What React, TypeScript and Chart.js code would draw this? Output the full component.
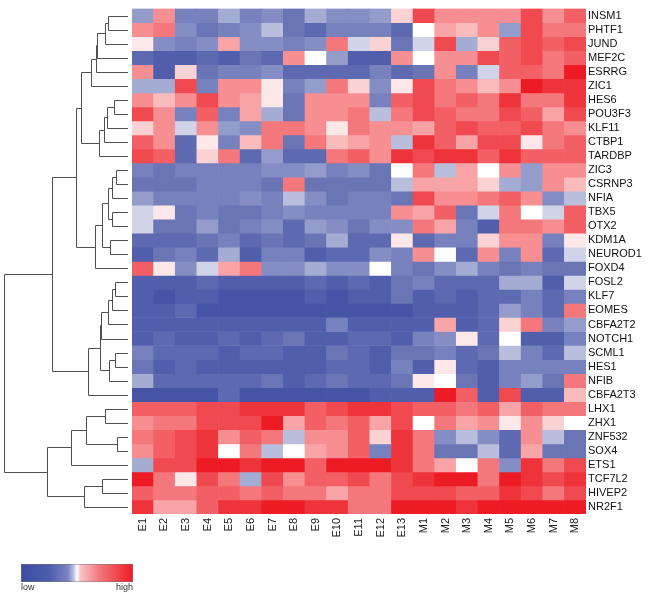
import { useEffect, useRef } from "react";
import { Chart, registerables } from "chart.js";

Chart.register(...registerables);

const samples = ["E1", "E2", "E3", "E4", "E5", "E6", "E7", "E8", "E9", "E10", "E11", "E12", "E13", "M1", "M2", "M3", "M4", "M5", "M6", "M7", "M8"];

const genes = ["INSM1", "PHTF1", "JUND", "MEF2C", "ESRRG", "ZIC1", "HES6", "POU3F3", "KLF11", "CTBP1", "TARDBP", "ZIC3", "CSRNP3", "NFIA", "TBX5", "OTX2", "KDM1A", "NEUROD1", "FOXD4", "FOSL2", "KLF7", "EOMES", "CBFA2T2", "NOTCH1", "SCML1", "HES1", "NFIB", "CBFA2T3", "LHX1", "ZHX1", "ZNF532", "SOX4", "ETS1", "TCF7L2", "HIVEP2", "NR2F1"];

// relative expression (-10 = low ... 10 = high), one row per gene, one column per sample
const expression: number[][] = [
  [-4, 5, -6, -6, -3, -6, -5, -7, -3, -5, -5, -4, 2, 8, 5, 5, 5, 5, 8, 5, 7],
  [5, 6, -5, -7, -6, -5, -2, -7, -8, -6, -6, -6, -8, 0, 4, 3, 5, -4, 8, 6, 6],
  [1, -5, -6, -5, 4, -5, -5, -6, -5, 6, -1, 2, -7, -1, 8, -3, 2, 7, 8, 7, 8],
  [-8, -9, -9, -8, -9, -7, -8, 5, 0, -4, -9, -9, 5, 0, 5, 5, 8, 7, 8, 6, 7],
  [5, -9, 2, -7, -6, -6, -5, -8, -8, -8, -8, -6, -8, -7, 5, -6, -1, 7, 7, 6, 10],
  [-3, -3, 8, -6, 5, 5, 1, -6, -4, 6, 2, -5, 1, 8, 6, 5, 3, 5, 10, 9, 9],
  [5, 3, 5, 8, 5, 4, 1, -7, 5, 5, 5, -6, 7, 8, 6, 7, 6, 9, 6, 6, 9],
  [8, 5, -6, 7, -6, 4, -3, -7, 5, 5, 6, -2, 6, 8, 7, 6, 6, 8, 7, 4, 8],
  [2, 5, -1, 5, -4, -5, 6, 6, 5, 1, 6, 5, 5, 4, 7, 8, 7, 7, 8, 6, 5],
  [7, 5, -8, 1, -6, 3, 6, -7, 6, 3, 4, 5, -2, 9, 7, 4, 8, 8, 1, 6, 7],
  [8, 7, -8, 2, 6, -8, -4, -8, -8, 6, 7, 5, 9, 8, 9, 9, 7, 9, 7, 7, 7],
  [-6, -7, -6, -6, -6, -6, -5, -5, -4, -6, -5, -7, 0, 6, -2, 4, 0, 5, -4, 5, 5],
  [-7, -7, -7, -6, -6, -6, -7, 6, -7, -7, -7, -7, -2, 4, 4, 4, 2, -3, -4, 5, 3],
  [-4, -6, -6, -6, -6, -5, -6, -2, -5, -7, -6, -6, -7, 8, 5, 5, 6, 7, 5, -5, -2],
  [-1, 1, -7, -6, -7, -7, -6, -5, -6, -6, -6, -6, 5, 4, 7, -7, -1, 6, 0, -1, 7],
  [-1, -7, -7, -4, -7, -6, -5, -8, -4, -5, -7, -5, -5, 6, 4, -6, -9, 6, 6, 5, 7],
  [-8, -8, -8, -7, -6, -8, -7, -8, -7, -3, -8, -8, 1, -8, -6, -6, 2, 5, 5, -6, 1],
  [-9, -7, -6, -8, -3, -9, -6, -6, -9, -8, -8, -5, -6, 5, 0, -8, 5, -6, 5, -8, -1],
  [7, 1, -5, -1, 4, 6, -5, -5, -3, -5, -5, 0, -6, -7, -5, -3, -6, -7, -6, -7, -7],
  [-9, -9, -9, -8, -9, -9, -9, -9, -8, -9, -8, -9, -7, -6, -8, -8, -8, -3, -3, -9, -1],
  [-9, -10, -9, -9, -10, -10, -10, -10, -9, -10, -9, -9, -7, -9, -8, -9, -8, -8, -6, -8, -6],
  [-9, -9, -8, -10, -10, -10, -10, -10, -10, -10, -10, -10, -10, -9, -9, -9, -8, -4, -6, -8, 6],
  [-9, -9, -9, -9, -9, -9, -9, -9, -9, -6, -9, -9, -9, -9, 4, -9, -8, 2, 6, -6, -4],
  [-9, -8, -9, -9, -8, -9, -8, -7, -9, -9, -8, -8, -9, -6, -5, 1, -8, 0, -9, -9, -6],
  [-6, -8, -8, -8, -9, -8, -8, -9, -9, -7, -8, -9, -7, -7, -6, -8, -7, -2, -6, -8, -2],
  [-7, -9, -8, -9, -9, -9, -9, -9, -9, -8, -8, -9, -6, -9, 1, -8, -9, -6, -6, -6, -6],
  [-3, -8, -8, -8, -8, -8, -7, -9, -8, -7, -8, -8, -7, 1, 0, -7, -9, -6, -4, -7, 6],
  [-10, -10, -10, -10, -8, -10, -10, -10, -10, -10, -10, -9, -9, -9, 10, 7, -9, 8, -9, -9, 3],
  [7, 7, 7, 8, 8, 9, 9, 9, 7, 8, 9, 9, 8, 7, 7, 6, 7, 4, 7, 6, 6],
  [5, 6, 6, 8, 8, 8, 10, 4, 7, 6, 7, 4, 8, 0, 6, 4, 5, 1, 5, 2, 0],
  [6, 7, 8, 9, 5, 7, 6, -2, 5, 5, 7, 2, 9, 6, -5, -2, -5, -8, 5, -2, -7],
  [5, 7, 8, 9, 0, 6, -2, 0, 4, 5, 7, -6, 9, 6, -7, -7, -2, -8, 4, -7, -7],
  [-3, 8, 8, 10, 10, 9, 10, 10, 7, 10, 10, 10, 9, 6, 4, 0, 6, -5, 9, 6, 8],
  [10, 6, 1, 8, 6, -3, 8, 5, 7, 7, 8, 6, 8, 9, 10, 10, 6, 10, 9, 8, 9],
  [7, 6, 6, 7, 7, 6, 7, 6, 6, 4, 6, 6, 8, 8, 8, 7, 7, 9, 8, 6, 8],
  [9, 4, 4, 7, 9, 9, 10, 10, 9, 9, 6, 6, 10, 10, 10, 9, 10, 10, 10, 10, 10],
];

// row dendrogram: merge k creates node 36 + k from (left, right) at the given height
const mergeLeft = [0, 36, 37, 38, 39, 6, 41, 42, 43, 40, 11, 46, 14, 47, 16, 49, 51, 45, 19, 54, 55, 56, 24, 58, 57, 60, 53, 28, 30, 63, 65, 33, 67, 66, 62];
const mergeRight = [1, 2, 3, 4, 5, 7, 8, 9, 10, 44, 12, 13, 15, 48, 17, 50, 18, 52, 20, 21, 22, 23, 25, 26, 59, 27, 61, 29, 31, 64, 32, 34, 35, 68, 69];
const mergeHeight = [2.0, 2.3, 3.1, 3.2, 3.7, 1.4, 2.1, 2.4, 2.9, 4.7, 1.2, 1.6, 1.6, 2.0, 1.8, 2.6, 3.3, 5.2, 1.3, 1.6, 2.0, 2.7, 1.3, 1.9, 2.8, 4.0, 7.6, 2.3, 1.1, 4.2, 5.7, 2.6, 4.4, 8.1, 12.4];

const scaleLabels = ["low", "high"];

const BLUE = [70, 84, 165];
const RED = [237, 28, 36];

function colorFor(v: number): string {
  const t = Math.max(-1, Math.min(1, v / 10));
  let a: number;
  let c: number[];
  if (t < 0) {
    a = Math.pow(-t, 0.6);
    c = BLUE;
  } else {
    a = t;
    c = RED;
  }
  const r = Math.round(255 + (c[0] - 255) * a);
  const g = Math.round(255 + (c[1] - 255) * a);
  const b = Math.round(255 + (c[2] - 255) * a);
  return `rgb(${r},${g},${b})`;
}

const FONT = "'Liberation Sans', Arial, Helvetica, sans-serif";

const dendroPlugin = {
  id: "dendro",
  afterDraw(chart: any) {
    const ctx = chart.ctx;
    const ys = chart.scales.y;
    const leafX = chart.chartArea.left - 4;
    const rootX = 4;
    const maxH = Math.max(...mergeHeight);
    const pos: { x: number; y: number }[] = genes.map((_, i) => ({ x: leafX, y: ys.getPixelForValue(i + 0.5) }));
    ctx.save();
    ctx.strokeStyle = "#505050";
    ctx.lineWidth = 1;
    ctx.beginPath();
    mergeLeft.forEach((a, k) => {
      const b = mergeRight[k];
      const px = Math.round(leafX - (mergeHeight[k] / maxH) * (leafX - rootX)) + 0.5;
      const A = pos[a];
      const B = pos[b];
      const ya = Math.round(A.y) + 0.5;
      const yb = Math.round(B.y) + 0.5;
      ctx.moveTo(A.x, ya);
      ctx.lineTo(px, ya);
      ctx.lineTo(px, yb);
      ctx.lineTo(B.x, yb);
      pos.push({ x: px, y: (A.y + B.y) / 2 });
    });
    ctx.stroke();
    ctx.restore();
  },
};

const colorbarPlugin = {
  id: "colorbar",
  afterDraw(chart: any) {
    const ctx = chart.ctx;
    const x = 21;
    const y = 564;
    const w = 112;
    const h = 18;
    ctx.save();
    const g = ctx.createLinearGradient(x, 0, x + w, 0);
    g.addColorStop(0, "rgb(60,76,162)");
    g.addColorStop(0.25, "rgb(78,92,172)");
    g.addColorStop(0.42, "rgb(125,132,196)");
    g.addColorStop(0.47, "rgb(190,194,228)");
    g.addColorStop(0.5, "rgb(255,255,255)");
    g.addColorStop(0.53, "rgb(249,196,200)");
    g.addColorStop(0.7, "rgb(243,118,125)");
    g.addColorStop(1, "rgb(237,28,36)");
    ctx.fillStyle = g;
    ctx.fillRect(x, y, w, h);
    ctx.strokeStyle = "rgba(120,120,120,0.5)";
    ctx.lineWidth = 1;
    ctx.strokeRect(x + 0.5, y + 0.5, w - 1, h - 1);
    ctx.fillStyle = "#333";
    ctx.font = `9px ${FONT}`;
    ctx.textBaseline = "top";
    ctx.textAlign = "left";
    ctx.fillText(scaleLabels[0], x, y + h + 1);
    ctx.textAlign = "right";
    ctx.fillText(scaleLabels[1], x + w, y + h + 1);
    ctx.restore();
  },
};

export default function App() {
  const ref = useRef<HTMLCanvasElement>(null);

  useEffect(() => {
    const datasets = genes.map((g, i) => ({
      label: g,
      data: samples.map(() => 1),
      backgroundColor: expression[i].map(colorFor),
      borderWidth: 0,
      barPercentage: 1,
      categoryPercentage: 1,
      stack: "cells",
    }));

    const chart = new Chart(ref.current as HTMLCanvasElement, {
      type: "bar",
      data: { labels: samples, datasets },
      options: {
        animation: false,
        responsive: false,
        devicePixelRatio: 1,
        layout: { padding: { left: 132, top: 3, right: 0, bottom: 0 } },
        plugins: {
          legend: { display: false },
          tooltip: { enabled: false },
        },
        scales: {
          x: {
            type: "category",
            stacked: true,
            grid: { display: false, drawTicks: false },
            border: { display: false },
            ticks: {
              autoSkip: false,
              minRotation: 90,
              maxRotation: 90,
              padding: 4,
              color: "#222",
              font: { family: FONT, size: 11 },
            },
            afterFit: (s: any) => {
              s.height = 82;
            },
          },
          y: {
            type: "linear",
            stacked: true,
            position: "right",
            min: 0,
            max: genes.length,
            reverse: true,
            grid: { display: false, drawTicks: false },
            border: { display: false },
            afterBuildTicks: (axis: any) => {
              axis.ticks = genes.map((_, i) => ({ value: i + 0.5 }));
            },
            ticks: {
              autoSkip: false,
              padding: 2,
              color: "#111",
              font: { family: FONT, size: 11 },
              callback: (value: any) => genes[Math.floor(Number(value))],
            },
            afterFit: (s: any) => {
              s.width = 64;
            },
          },
        },
      },
      plugins: [dendroPlugin, colorbarPlugin],
    } as any);

    return () => chart.destroy();
  }, []);

  return (
    <div style={{ position: "absolute", left: 0, top: 0, width: 650, height: 596, background: "#fff" }}>
      <canvas ref={ref} width={650} height={596} style={{ display: "block", width: 650, height: 596 }} />
    </div>
  );
}
